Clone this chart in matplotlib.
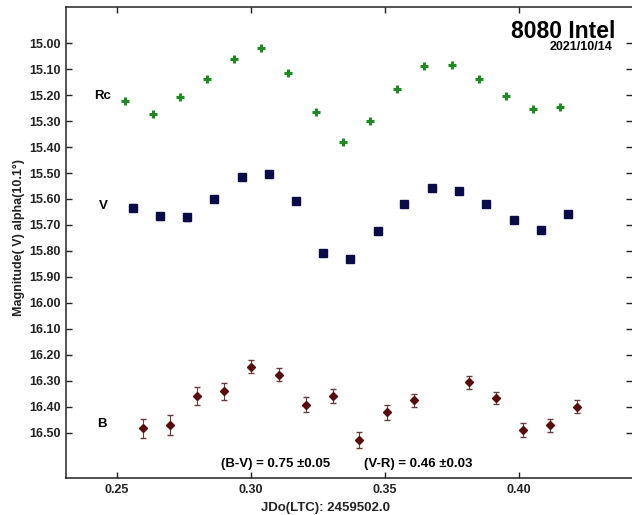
import matplotlib
matplotlib.use('Agg')
import numpy as np
import matplotlib.pyplot as plt

# Rc band
rc_x = [0.2532, 0.2633, 0.2736, 0.2835, 0.2937, 0.3037, 0.3139, 0.3241, 0.3343,
        0.3444, 0.3544, 0.3647, 0.3749, 0.3851, 0.3953, 0.4053, 0.4154]
rc_mag = [15.222, 15.274, 15.208, 15.137, 15.061, 15.017, 15.115, 15.266, 15.382,
          15.300, 15.176, 15.090, 15.085, 15.137, 15.202, 15.252, 15.247]

# V band
v_x = [0.2560, 0.2660, 0.2762, 0.2861, 0.2966, 0.3067, 0.3169, 0.3270, 0.3370,
       0.3473, 0.3572, 0.3675, 0.3776, 0.3878, 0.3980, 0.4081, 0.4182]
v_mag = [15.633, 15.667, 15.671, 15.601, 15.517, 15.505, 15.608, 15.806, 15.832,
         15.724, 15.618, 15.556, 15.571, 15.618, 15.680, 15.720, 15.659]
v_err = [0.012, 0.012, 0.012, 0.010, 0.008, 0.008, 0.008, 0.008, 0.010,
         0.008, 0.008, 0.008, 0.008, 0.008, 0.008, 0.008, 0.008]

# B band
b_x = [0.2597, 0.2697, 0.2799, 0.2899, 0.3000, 0.3103, 0.3204, 0.3306, 0.3404,
       0.3509, 0.3609, 0.3813, 0.3915, 0.4016, 0.4116, 0.4217]
b_mag = [16.483, 16.469, 16.358, 16.341, 16.245, 16.276, 16.392, 16.358, 16.527,
         16.421, 16.375, 16.305, 16.366, 16.490, 16.471, 16.399]
b_err = [0.036, 0.039, 0.034, 0.032, 0.026, 0.025, 0.029, 0.027, 0.030,
         0.028, 0.024, 0.025, 0.024, 0.028, 0.025, 0.024]

x_ticks = [0.25, 0.30, 0.35, 0.40]
y_ticks = np.round(np.arange(15.0, 16.51, 0.1), 2)

plt.rcParams['font.family'] = ['Liberation Sans', 'DejaVu Sans']
plt.rcParams['font.weight'] = 'bold'

fig = plt.figure(figsize=(6.32, 5.15), dpi=100)
ax = fig.add_axes([66 / 632, 1 - 478 / 515, 566 / 632, 471 / 515])

ax.plot(rc_x, rc_mag, '+', color='#1e8a22', markersize=5.5, markeredgewidth=2.2)
ax.errorbar(v_x, v_mag, yerr=v_err, fmt='s', color='#0b0b4a', ecolor='#777788',
            elinewidth=0.8, capsize=2, markersize=5.5)
ax.errorbar(b_x, b_mag, yerr=b_err, fmt='D', color='#5a0c0c', ecolor='#6a3a3a',
            elinewidth=0.8, capsize=2.5, markersize=4)

ax.set_xlim(0.2310, 0.4422)
ax.set_ylim(16.674, 14.861)
ax.set_xticks(x_ticks)
ax.set_xticklabels(['%.2f' % t for t in x_ticks])
ax.set_yticks(y_ticks)
ax.set_yticklabels(['%.2f' % t for t in y_ticks])
ax.tick_params(direction='in', length=4, width=1, labelsize=9, pad=4,
               top=True, right=True, colors='#222222', labelcolor='#222222')
ax.spines['right'].set_visible(False)
for s in ['left', 'top', 'bottom']:
    ax.spines[s].set_linewidth(1.1)
    ax.spines[s].set_color('#222222')

ax.set_xlabel('JDo(LTC): 2459502.0', fontsize=9.5, fontweight='bold', color='#222222')
ax.xaxis.set_label_coords(0.459, -0.05)
ax.set_ylabel('Magnitude( V) alpha(10.1°)', fontsize=9, fontweight='bold', color='#222222')
ax.yaxis.set_label_coords(-0.073, 0.51)

ax.text(0.2448, 15.203, 'Rc', fontsize=9.5, fontweight='bold', ha='center', va='center')
ax.text(0.2448, 15.628, 'V', fontsize=9.5, fontweight='bold', ha='center', va='center')
ax.text(0.2443, 16.467, 'B', fontsize=9.5, fontweight='bold', ha='center', va='center')
ax.text(0.3093, 16.62, '(B-V) = 0.75 ±0.05', fontsize=9.5, fontweight='bold',
        ha='center', va='center')
ax.text(0.3623, 16.62, '(V-R) = 0.46 ±0.03', fontsize=9.5, fontweight='bold',
        ha='center', va='center')

ax.text(0.970, 0.949, '8080 Intel', transform=ax.transAxes, fontsize=16.5,
        fontweight='bold', ha='right', va='center')
ax.text(0.966, 0.915, '2021/10/14', transform=ax.transAxes, fontsize=9,
        fontweight='bold', ha='right', va='center')

fig.savefig('out.png', dpi=100)
